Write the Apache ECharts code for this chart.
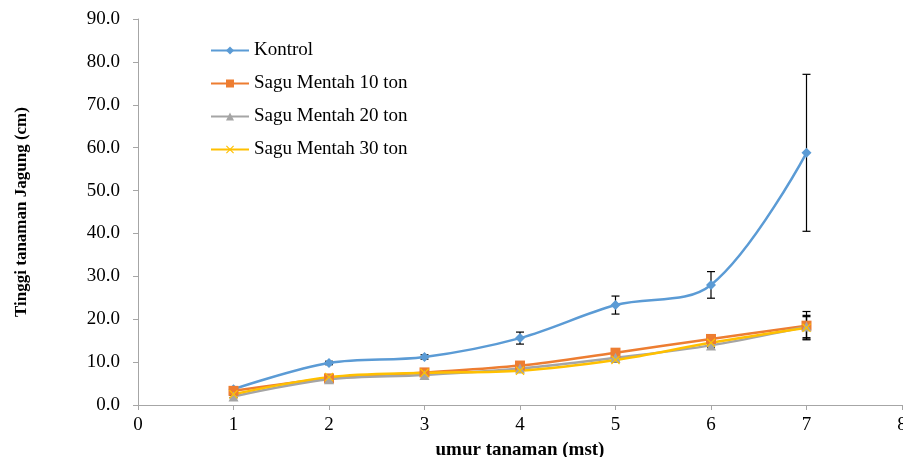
<!DOCTYPE html>
<html lang="id">

<head>
    <meta charset="UTF-8">
    <title>Tinggi tanaman Jagung</title>
    <script src="https://cdn.jsdelivr.net/npm/echarts@6/dist/echarts.min.js"></script>
</head>

<body style="margin:0">
    <div id="main" style="width: 903px;height:457px;"></div>
</body>
<script>
    // data
    var weeks = [1, 2, 3, 4, 5, 6, 7];
    var kontrol = [3.7, 9.8, 11.2, 15.6, 23.3, 28.0, 58.8];
    var kontrolErr = [0.4, 0.4, 0.5, 1.4, 2.1, 3.1, 18.3];
    var sagu10 = [3.3, 6.2, 7.6, 9.2, 12.2, 15.4, 18.5];
    var sagu10Err = [0.3, 0.2, 0.2, 0.2, 0.5, 0.5, 3.3];
    var sagu20 = [2.0, 6.0, 7.0, 8.5, 11.0, 13.9, 18.3];
    var sagu20Err = [0.3, 0.2, 0.2, 0.2, 0.5, 0.5, 2.6];
    var sagu30 = [2.5, 6.5, 7.5, 8.0, 10.5, 14.5, 18.0];
    var sagu30Err = [0.3, 0.2, 0.2, 0.2, 0.5, 0.5, 2.6];
    var names = ['Kontrol', 'Sagu Mentah 10 ton', 'Sagu Mentah 20 ton', 'Sagu Mentah 30 ton'];

    var font = '"Liberation Serif", "Times New Roman", serif';
    var xSymbol = 'path://M1,0L5,4L9,0L10,1L6,5L10,9L9,10L5,6L1,10L0,9L4,5L0,1Z';

    function pairs(vals) {
        return weeks.map(function(w, i) { return [w, vals[i]]; });
    }

    function errData(vals, errs) {
        return weeks.map(function(w, i) { return [w, vals[i] - errs[i], vals[i] + errs[i]]; });
    }

    function errSeries(vals, errs) {
        return {
            type: 'custom',
            data: errData(vals, errs),
            z: 1,
            silent: true,
            renderItem: function(params, api) {
                var top = api.coord([api.value(0), api.value(2)]);
                var bot = api.coord([api.value(0), api.value(1)]);
                var w = 4;
                var st = { stroke: '#000', lineWidth: 1.2 };
                return {
                    type: 'group',
                    children: [
                        { type: 'line', shape: { x1: top[0], y1: top[1], x2: bot[0], y2: bot[1] }, style: st },
                        { type: 'line', shape: { x1: top[0] - w, y1: top[1], x2: top[0] + w, y2: top[1] }, style: st },
                        { type: 'line', shape: { x1: bot[0] - w, y1: bot[1], x2: bot[0] + w, y2: bot[1] }, style: st }
                    ]
                };
            }
        };
    }

    function lineSeries(name, vals, color, symbol, size) {
        return {
            name: name,
            type: 'line',
            data: pairs(vals),
            smooth: 0.35,
            symbol: symbol,
            symbolSize: size,
            z: 2,
            itemStyle: { color: color },
            lineStyle: { color: color, width: 2.5 }
        };
    }

    var myChart = echarts.init(document.getElementById('main'));

    var option = {
        animation: false,
        backgroundColor: '#fff',
        grid: { left: 138, right: 1, top: 19, bottom: 52, containLabel: false, outerBoundsMode: 'none' },
        legend: {
            data: names,
            orient: 'vertical',
            left: 205,
            top: 36,
            itemWidth: 38,
            itemHeight: 10,
            itemGap: 14,
            textStyle: { fontFamily: font, fontSize: 19, color: '#000' }
        },
        xAxis: {
            type: 'value',
            min: 0,
            max: 8,
            interval: 1,
            name: 'umur tanaman (mst)',
            nameLocation: 'middle',
            nameGap: 36,
            nameTextStyle: { fontFamily: font, fontSize: 19, fontWeight: 'bold', color: '#000' },
            axisLine: { lineStyle: { color: '#a6a6a6' } },
            axisTick: { show: true, length: 5, lineStyle: { color: '#a6a6a6' } },
            axisLabel: { fontFamily: font, fontSize: 19, color: '#000', margin: 11 },
            splitLine: { show: false }
        },
        yAxis: {
            type: 'value',
            min: 0,
            max: 90,
            interval: 10,
            name: 'Tinggi tanaman Jagung (cm)',
            nameLocation: 'middle',
            nameGap: 108,
            nameTextStyle: { fontFamily: font, fontSize: 17, fontWeight: 'bold', color: '#000' },
            axisLine: { show: true, lineStyle: { color: '#a6a6a6' } },
            axisTick: { show: true, length: 5, lineStyle: { color: '#a6a6a6' } },
            axisLabel: {
                fontFamily: font, fontSize: 19, color: '#000', margin: 18,
                formatter: function(v) { return v.toFixed(1); }
            },
            splitLine: { show: false }
        },
        series: [
            lineSeries(names[0], kontrol, '#5b9bd5', 'diamond', 10),
            lineSeries(names[1], sagu10, '#ed7d31', 'rect', 10),
            lineSeries(names[2], sagu20, '#a5a5a5', 'triangle', 10),
            lineSeries(names[3], sagu30, '#ffc000', xSymbol, 9),
            errSeries(kontrol, kontrolErr),
            errSeries(sagu10, sagu10Err),
            errSeries(sagu20, sagu20Err),
            errSeries(sagu30, sagu30Err)
        ]
    };

    myChart.setOption(option);
</script>

</html>
